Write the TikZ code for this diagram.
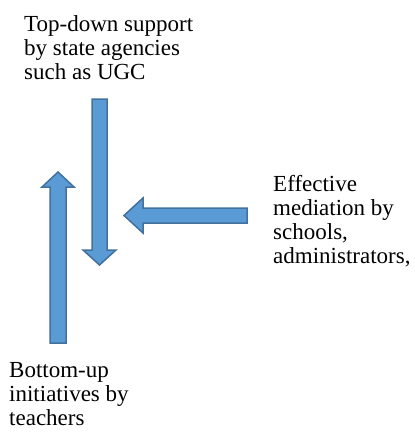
\documentclass[tikz,border=0pt]{standalone}
\usepackage{fontspec}
\setmainfont{Liberation Serif}
\definecolor{arrowblue}{RGB}{91,155,213}
\definecolor{arrowedge}{RGB}{65,113,156}
\tikzset{
  blockarrow/.style={fill=arrowblue,draw=arrowedge,line width=1.5pt,line join=miter},
  blocktext/.style={anchor=base west,align=left,inner sep=0pt,
    font=\fontsize{23}{24}\selectfont}
}

\begin{document}
\begin{tikzpicture}[x=1pt,y=-1pt]
\useasboundingbox (0,0) rectangle (415,434);
% down arrow (top-down)
\draw[blockarrow] (92,99)--(107,99)--(107,250)--(116,250)--(99.5,265)--(83,250)--(92,250)--cycle;
% up arrow (bottom-up)
\draw[blockarrow] (50,343)--(66,343)--(66,187)--(74,187)--(58,172)--(42,187)--(50,187)--cycle;
% left arrow (mediation)
\draw[blockarrow] (247,208)--(247,223)--(143,223)--(143,233)--(124,215.5)--(143,198)--(143,208)--cycle;
% texts (anchored at the last baseline)
\node[blocktext] (topdown) at (24,79) {Top-down support\\by state agencies\\such as UGC};
\node[blocktext] (mediation) at (273,263) {Effective\\mediation by\\schools,\\administrators,};
\node[blocktext] (bottomup) at (9,425) {Bottom-up\\initiatives by\\teachers};
\end{tikzpicture}
\end{document}
